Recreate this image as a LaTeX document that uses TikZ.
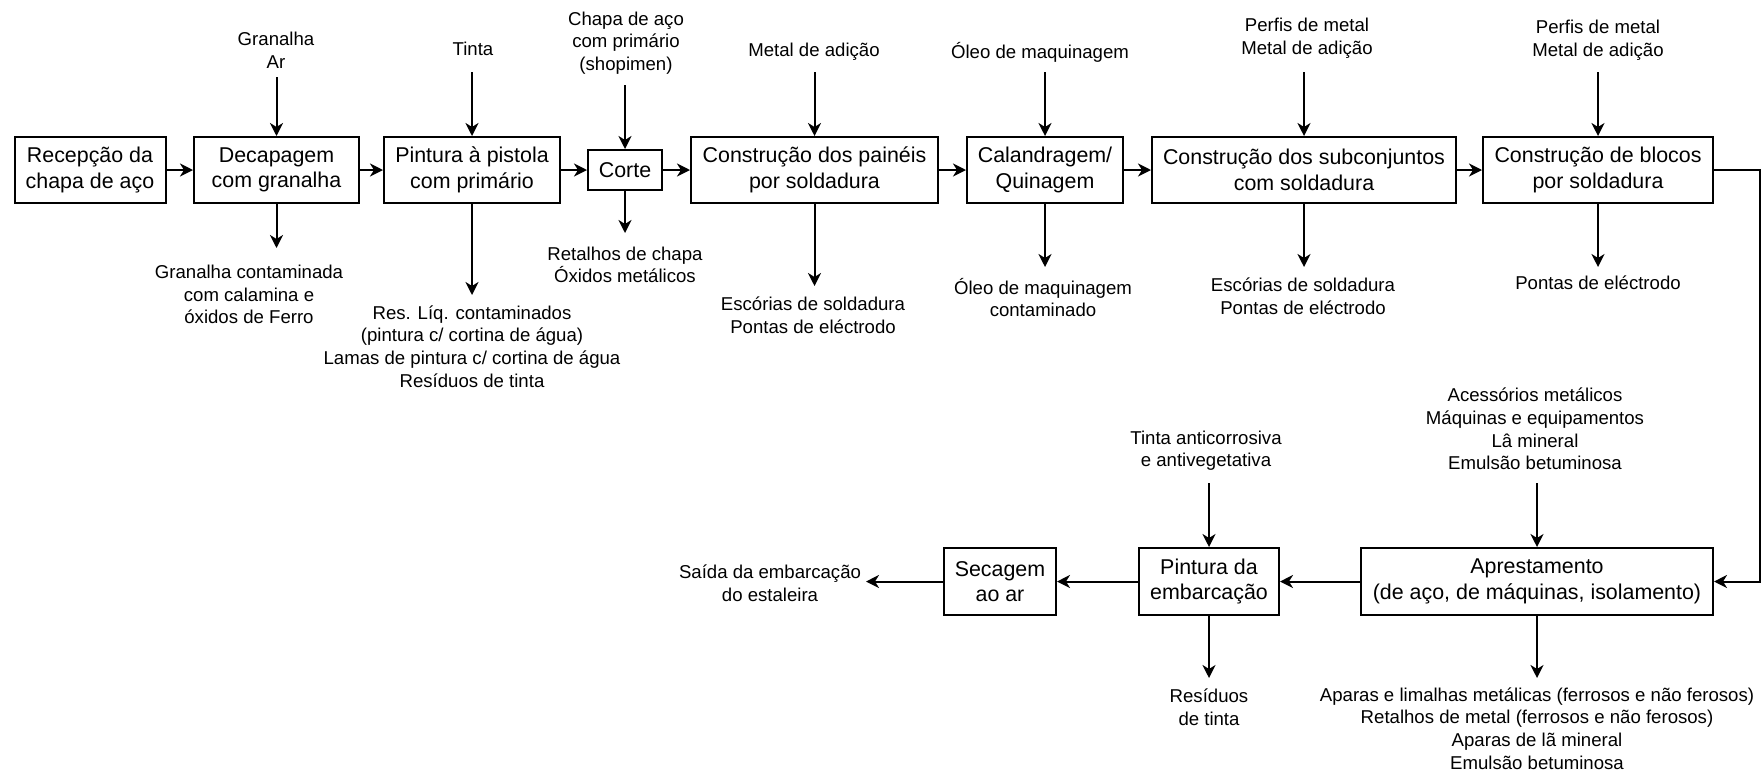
\documentclass[tikz,border=0pt]{standalone}
\usepackage{fontspec}
\setmainfont{Liberation Sans}
\usetikzlibrary{arrows.meta}
\begin{document}
\begin{tikzpicture}[x=1pt,y=-1pt,
  procbox/.style={draw, line width=2pt, align=center, inner sep=0pt,
    font=\fontsize{21.4}{25.5}\selectfont},
  lbl/.style={align=center, inner sep=0pt, font=\fontsize{18.6}{22.6}\selectfont},
  arr/.style={line width=2pt, -{Stealth[length=13pt,width=13pt,inset=4pt]}}]
\useasboundingbox (0,0) rectangle (1762,772);

% main process line
\node[procbox, minimum width=151pt, minimum height=66pt] (rec) at (90,170) {Recepção da\\chapa de aço};
\node[procbox, minimum width=165pt, minimum height=66pt] (decap) at (276.5,170) {Decapagem\\com granalha};
\node[procbox, minimum width=176pt, minimum height=66pt] (pist) at (472,170) {Pintura à pistola\\com primário};
\node[procbox, minimum width=74pt, minimum height=40pt] (corte) at (625,170) {Corte};
\node[procbox, minimum width=247pt, minimum height=66pt] (paineis) at (814.5,170) {Construção dos painéis\\por soldadura};
\node[procbox, minimum width=156pt, minimum height=66pt] (cal) at (1045,170) {Calandragem/\\Quinagem};
\node[procbox, minimum width=304pt, minimum height=66pt] (subc) at (1304,170) {Construção dos subconjuntos\\com soldadura};
\node[procbox, minimum width=230pt, minimum height=66pt] (blocos) at (1598,170) {Construção de blocos\\por soldadura};

% finishing line
\node[procbox, minimum width=352pt, minimum height=67pt] (aprest) at (1537,581.5) {Aprestamento\\(de aço, de máquinas, isolamento)};
\node[procbox, minimum width=140pt, minimum height=67pt] (pemb) at (1209,581.5) {Pintura da\\embarcação};
\node[procbox, minimum width=112pt, minimum height=67pt] (sec) at (1000,581.5) {Secagem\\ao ar};

% inputs
\node[lbl] (iDecap) at (276,50) {Granalha\\Ar};
\node[lbl] (iPist) at (473,49) {Tinta};
\node[lbl] (iCorte) at (626,43) {Chapa de aço\\com primário\\(shopimen)};
\node[lbl] (iPain) at (814,52) {Metal de adição};
\node[lbl] (iCal) at (1040,52) {Óleo de maquinagem};
\node[lbl] (iSubc) at (1307,38.5) {Perfis de metal\\Metal de adição};
\node[lbl] (iBloc) at (1598,40) {Perfis de metal\\Metal de adição};
\node[lbl] (iPemb) at (1206,450.5) {Tinta anticorrosiva\\e antivegetativa};
\node[lbl] (iApr) at (1535,429) {Acessórios metálicos\\Máquinas e equipamentos\\Lâ mineral\\Emulsão betuminosa};

% outputs
\node[lbl] (oDecap) at (249,294.5) {Granalha contaminada\\com calamina e\\óxidos de Ferro};
\node[lbl] (oPist) at (472,346.5) {Res. Líq. contaminados\\(pintura c/ cortina de água)\\Lamas de pintura c/ cortina de água\\Resíduos de tinta};
\node[lbl] (oCorte) at (625,265) {Retalhos de chapa\\Óxidos metálicos};
\node[lbl] (oPain) at (813,315.5) {Escórias de soldadura\\Pontas de eléctrodo};
\node[lbl] (oCal) at (1043,297.5) {Óleo de maquinagem\\contaminado};
\node[lbl] (oSubc) at (1303,296) {Escórias de soldadura\\Pontas de eléctrodo};
\node[lbl] (oBloc) at (1598,283) {Pontas de eléctrodo};
\node[lbl] (oPemb) at (1209,707.5) {Resíduos\\de tinta};
\node[lbl] (oApr) at (1537,728.5) {Aparas e limalhas metálicas (ferrosos e não ferosos)\\Retalhos de metal (ferrosos e não ferosos)\\Aparas de lã mineral\\Emulsão betuminosa};
\node[lbl] (oSec) at (770,583.5) {Saída da embarcação\\do estaleira};

% free ends of the input and output arrows
\coordinate (aDecapIn) at (276.5,77);
\coordinate (aPistIn) at (472,72);
\coordinate (aCorteIn) at (625,85);
\coordinate (aPainIn) at (814.5,72);
\coordinate (aCalIn) at (1045,72);
\coordinate (aSubcIn) at (1304,72);
\coordinate (aBlocIn) at (1598,72);
\coordinate (aPembIn) at (1209,483);
\coordinate (aAprIn) at (1537,483);
\coordinate (aDecapOut) at (276.5,248);
\coordinate (aPistOut) at (472,295);
\coordinate (aCorteOut) at (625,233);
\coordinate (aPainOut) at (814.5,286);
\coordinate (aCalOut) at (1045,267);
\coordinate (aSubcOut) at (1304,267);
\coordinate (aBlocOut) at (1598,267);
\coordinate (aPembOut) at (1209,678);
\coordinate (aAprOut) at (1537,678);
\coordinate (aSecOut) at (866,581.5);
\coordinate (turn) at (1760,170);

% flow between processes
\draw[arr] (rec) -- (decap);
\draw[arr] (decap) -- (pist);
\draw[arr] (pist) -- (corte);
\draw[arr] (corte) -- (paineis);
\draw[arr] (paineis) -- (cal);
\draw[arr] (cal) -- (subc);
\draw[arr] (subc) -- (blocos);
\draw[arr] (blocos.east) -- (turn) |- (aprest.east);
\draw[arr] (aprest) -- (pemb);
\draw[arr] (pemb) -- (sec);
\draw[arr] (sec.west) -- (aSecOut);

% inputs
\draw[arr] (aDecapIn) -- (decap.north);
\draw[arr] (aPistIn) -- (pist.north);
\draw[arr] (aCorteIn) -- (corte.north);
\draw[arr] (aPainIn) -- (paineis.north);
\draw[arr] (aCalIn) -- (cal.north);
\draw[arr] (aSubcIn) -- (subc.north);
\draw[arr] (aBlocIn) -- (blocos.north);
\draw[arr] (aPembIn) -- (pemb.north);
\draw[arr] (aAprIn) -- (aprest.north);

% outputs
\draw[arr] (decap.south) -- (aDecapOut);
\draw[arr] (pist.south) -- (aPistOut);
\draw[arr] (corte.south) -- (aCorteOut);
\draw[arr] (paineis.south) -- (aPainOut);
\draw[arr] (cal.south) -- (aCalOut);
\draw[arr] (subc.south) -- (aSubcOut);
\draw[arr] (blocos.south) -- (aBlocOut);
\draw[arr] (pemb.south) -- (aPembOut);
\draw[arr] (aprest.south) -- (aAprOut);
\end{tikzpicture}
\end{document}
